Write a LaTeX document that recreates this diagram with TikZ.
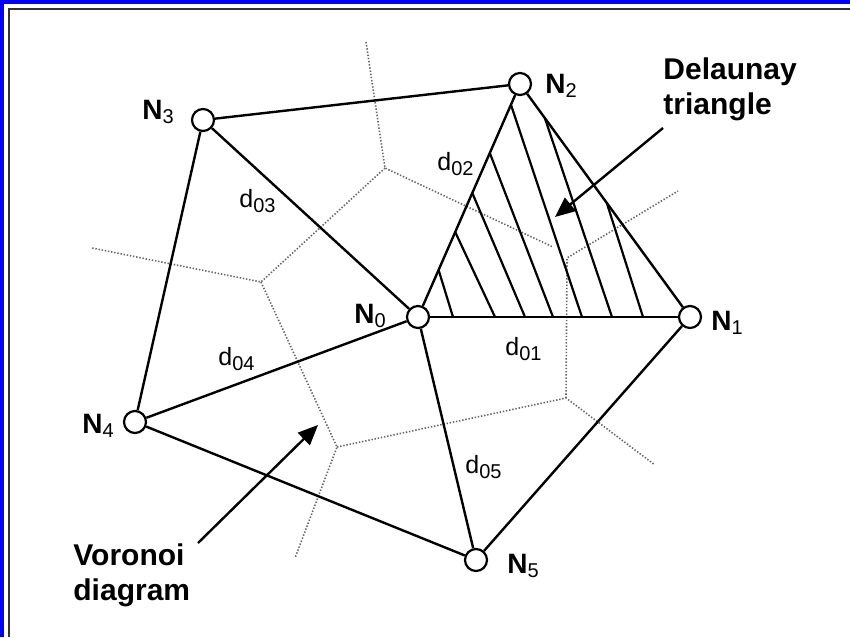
\documentclass[tikz,border=0pt]{standalone}
\usepackage{fontspec}
\setmainfont{Liberation Sans}
\usetikzlibrary{arrows.meta}
\newcommand\Nlab[1]{{\fontsize{14}{16}\selectfont\bfseries N}\raisebox{-2pt}{\fontsize{10}{12}\selectfont #1}}
\newcommand\dlab[1]{{\fontsize{12.5}{14}\selectfont d}\raisebox{-2.5pt}{\fontsize{10}{12}\selectfont #1}}
\begin{document}
\begin{tikzpicture}[x=0.5pt,y=-0.5pt,
  vnode/.style={circle,draw,line width=1.1pt,fill=white,minimum size=11pt,inner sep=0pt},
  edge/.style={line width=1.2pt},
  hatch/.style={line width=1.1pt},
  vor/.style={line width=0.8pt,black!60,dash pattern=on 0.7pt off 0.9pt},
  lbl/.style={inner sep=0pt,anchor=base west},
  big/.style={inner sep=0pt,anchor=north west,align=left,font=\fontsize{15}{17.5}\selectfont\bfseries},
  pointer/.style={line width=1.2pt,-{Triangle[length=10pt,width=8.5pt]}}]
\useasboundingbox (0,0) rectangle (850,637);
% frame
\fill[blue] (0,0) rectangle (850,4);
\fill[blue] (0,0) rectangle (4,637);
\draw[line width=1pt,black!80] (9,637) -- (9,9) -- (850,9);
% Voronoi diagram
\coordinate (v1) at (385,168);
\coordinate (v2) at (567,258);
\coordinate (v3) at (566,398);
\coordinate (v4) at (337,447);
\coordinate (v5) at (261,282);
\draw[vor] (366,42) -- (v1) -- (553,247);
\draw[vor] (v1) -- (v5) -- (92,248);
\draw[vor] (v5) -- (v4) -- (295,558);
\draw[vor] (v4) -- (v3) -- (655,465);
\draw[vor] (v3) -- (v2) -- (678,191);
% hatching of the Delaunay triangle
\draw[hatch] (438.6,270) -- (453,317);
\draw[hatch] (455.2,232) -- (495,317);
\draw[hatch] (472.3,193) -- (525,317);
\draw[hatch] (489.8,153) -- (553,317);
\draw[hatch] (511,105) -- (582,317);
\draw[hatch] (544.8,118) -- (612,317);
\draw[hatch] (606.8,203) -- (643,317);
% nodes
\node[vnode] (n0) at (418,317) {};
\node[vnode] (n1) at (690,317) {};
\node[vnode] (n2) at (520,84) {};
\node[vnode] (n3) at (203,120) {};
\node[vnode] (n4) at (135,422) {};
\node[vnode] (n5) at (476,560) {};
% Delaunay edges
\draw[edge] (n3) -- (n2);
\draw[edge] (n3) -- (n0);
\draw[edge] (n3) -- (n4);
\draw[edge] (n4) -- (n0);
\draw[edge] (n4) -- (n5);
\draw[edge] (n0) -- (n5);
\draw[edge] (n0) -- (n1);
\draw[edge] (n0) -- (n2);
\draw[edge] (n2) -- (n1);
\draw[edge] (n1) -- (n5);
% node labels
\node[lbl] (l0) at (354,323) {\Nlab{0}};
\node[lbl] (l1) at (711,330) {\Nlab{1}};
\node[lbl] (l2) at (545,93) {\Nlab{2}};
\node[lbl] (l3) at (142,119) {\Nlab{3}};
\node[lbl] (l4) at (82,433) {\Nlab{4}};
\node[lbl] (l5) at (507,573) {\Nlab{5}};
% distance labels
\node[lbl] (d01) at (505,355) {\dlab{01}};
\node[lbl] (d02) at (437,170) {\dlab{02}};
\node[lbl] (d03) at (239,207) {\dlab{03}};
\node[lbl] (d04) at (218,365) {\dlab{04}};
\node[lbl] (d05) at (465,473) {\dlab{05}};
% callouts
\node[big] (tri) at (663,57) {Delaunay\\triangle};
\node[big] (vor) at (73,543) {Voronoi\\diagram};
\coordinate (dtail) at (663,128);
\coordinate (dtip) at (555,217);
\coordinate (vtail) at (198,543);
\coordinate (vtip) at (318,425);
\draw[pointer] (dtail) -- (dtip);
\draw[pointer] (vtail) -- (vtip);
\end{tikzpicture}
\end{document}
